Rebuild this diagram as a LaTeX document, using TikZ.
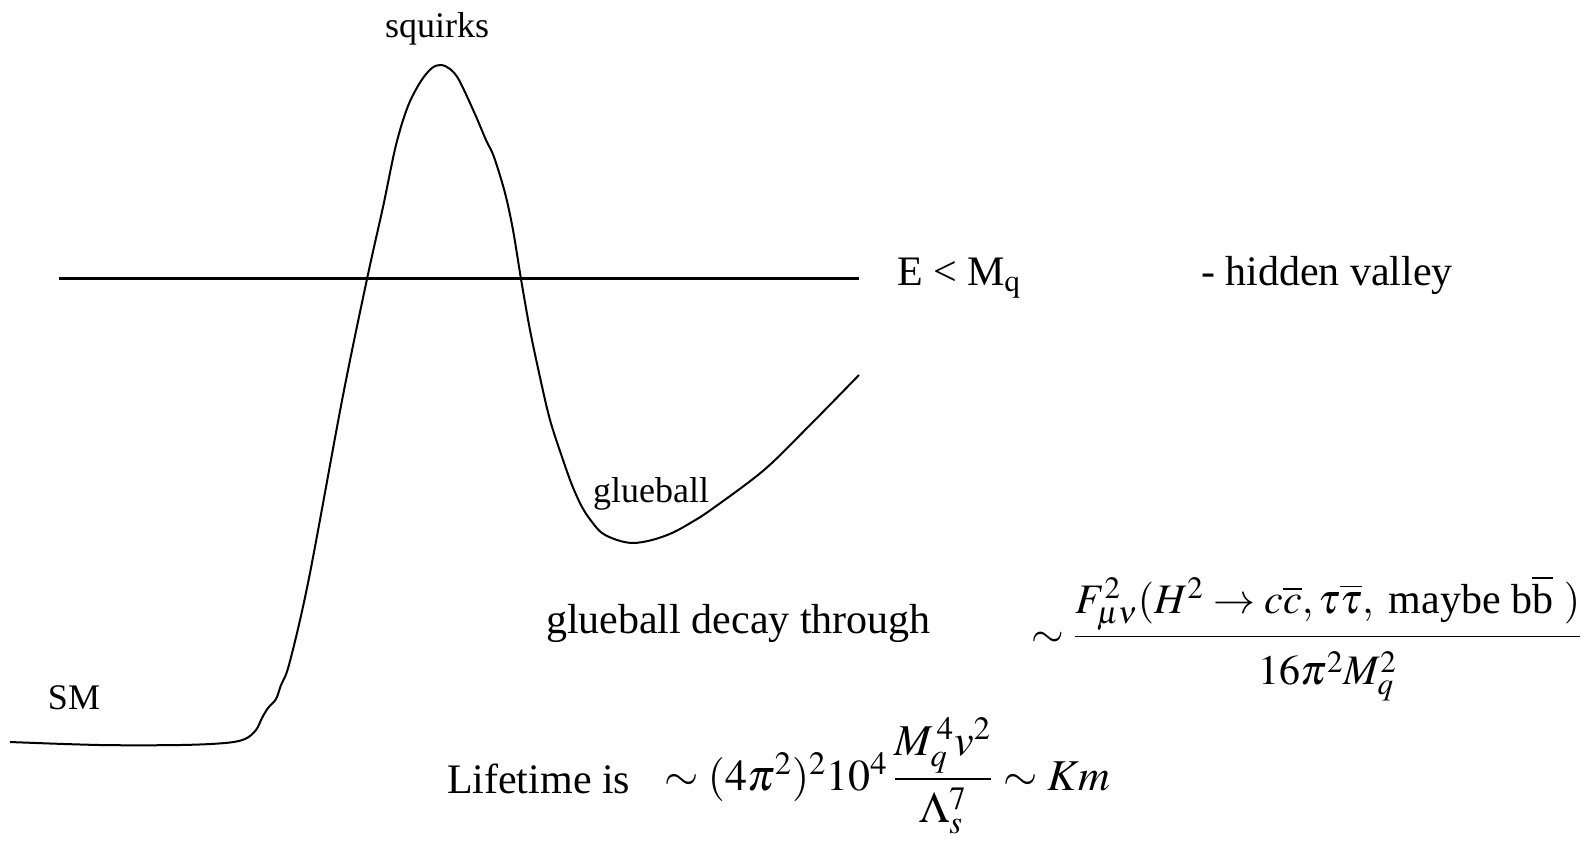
\documentclass[tikz,border=0pt]{standalone}
\usepackage{amsmath}
\usepackage{mathptmx}
\usepackage{fontspec}
\setmainfont{Liberation Serif}
\begin{document}
\begin{tikzpicture}[x=0.5pt, y=-0.5pt, line width=1pt,
    small/.style={font=\fontsize{18}{21}\selectfont, inner sep=0pt},
    big/.style={font=\fontsize{21}{25}\selectfont, inner sep=0pt},
    bigmath/.style={font=\fontsize{22}{26}\selectfont, inner sep=0pt}]
    \useasboundingbox (0,0) rectangle (1588,841);

    % 1. energy line
    \draw[line width=1.2pt] (59,278.5) -- (859,278.5);
    \node[big, anchor=base west] (ecut) at (896,285) {E < M$_\mathrm{q}$};
    \node[big, anchor=base west] (hv) at (1200,285) {- hidden valley};

    % 2. potential curve: SM -- squirks -- glueball
    \draw plot[smooth, tension=0.55] coordinates {
        (10,742) (100,745) (180,745) (225,743) (245,739) (256,730) (262,718)
        (268,708) (276,699) (281,685) (289.5,663) (309,578) (342.5,398)
        (367,279) (383,207) (396,145) (408,106) (421,81) (432,68) (441,65)
        (450,69) (459,80) (474.5,113) (486,140) (494,157) (505,193) (513,230)
        (521,279) (530,330) (540.6,380) (550,420) (562,457) (572,485) (582,507)
        (592,522) (602,533) (617,540) (633,543) (652,540) (672,533) (692,522)
        (712,509) (764,470) (810,425) (859,375)};
    \node[small, anchor=base] (sq) at (437,37) {squirks};
    \node[small, anchor=base] (gb) at (651,502) {glueball};
    \node[small, anchor=base] (sm) at (74,709) {SM};

    % 3. glueball decay
    \node[big, anchor=base west] (decay) at (545,633) {glueball decay through};
    \node[big, anchor=base west] (rate) at (1030,647)
        {$\sim\dfrac{F_{\mu\nu}^2(H^2\to c\overline{c},\tau\overline{\tau},\ \text{maybe b}\overline{\text{b}}\ )}{\rule{0pt}{1.0em}16\pi^2M_q^2}$};

    % 4. lifetime
    \node[big, anchor=base west] (life) at (446,793) {Lifetime is};
    \node[bigmath, anchor=base west] (lifeeq) at (663,790)
        {$\sim(4\pi^2)^2 10^4\,\dfrac{M_q^{\,4}v^2}{\rule{0pt}{0.85em}\Lambda_s^7}\sim Km$};
\end{tikzpicture}
\end{document}
